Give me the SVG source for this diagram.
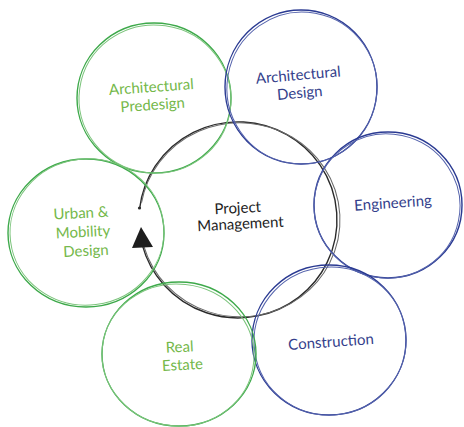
<svg xmlns="http://www.w3.org/2000/svg" width="464" height="427" viewBox="0 0 464 427">
<style>
.g1{fill:none;stroke:#3da94a;stroke-width:1.4}
.g2{fill:none;stroke:#7cc47c;stroke-width:1}
.b1{fill:none;stroke:#2a3a92;stroke-width:1.4}
.b2{fill:none;stroke:#5664ad;stroke-width:1}
.k1{fill:none;stroke:#2a2a2a;stroke-width:1.4}
.k2{fill:none;stroke:#6a6a6a;stroke-width:1}
text{font-family:Lato,"Liberation Sans",sans-serif;font-size:15px;text-anchor:middle}
.tg{fill:#74b84a}
.tb{fill:#353f8c}
.tk{fill:#1e1e1e}
</style>
<rect width="464" height="427" fill="#ffffff"/>
<g id="connectors">
<path class="k1" d="M139.7,208.1 A99 98 0 1 1 142.4,245.4"/>
<path class="k2" d="M141,206 A100 97 0 1 1 145,250" transform="rotate(2 238 220)"/>
<circle cx="139.5" cy="208" r="1.6" fill="#2a2a2a"/>
<polygon points="141,227 132,248 153,247" fill="#1e1e1e"/>
</g>
<g id="node-predesign">
<ellipse class="g1" cx="154" cy="98" rx="77" ry="75"/>
<ellipse class="g2" cx="155" cy="99" rx="76" ry="74" transform="rotate(8 155 99)"/>
<g transform="rotate(-4 152 96)"><text class="tg" x="152" y="92">Architectural</text><text class="tg" x="152" y="110">Predesign</text></g>
</g>
<g id="node-design">
<ellipse class="b1" cx="301" cy="87" rx="76" ry="77"/>
<ellipse class="b2" cx="302" cy="88" rx="75" ry="76" transform="rotate(10 302 88)"/>
<g transform="rotate(-5 299 84)"><text class="tb" x="299" y="80">Architectural</text><text class="tb" x="299" y="98">Design</text></g>
</g>
<g id="node-engineering">
<ellipse class="b1" cx="388" cy="205" rx="74" ry="73"/>
<ellipse class="b2" cx="387" cy="206" rx="73" ry="72" transform="rotate(12 387 206)"/>
<text class="tb" x="393" y="208" transform="rotate(-4 393 203)">Engineering</text>
</g>
<g id="node-construction">
<ellipse class="b1" cx="329" cy="340" rx="77" ry="75"/>
<ellipse class="b2" cx="330" cy="341" rx="76" ry="74" transform="rotate(-8 330 341)"/>
<text class="tb" x="331" y="347" transform="rotate(-4 331 342)">Construction</text>
</g>
<g id="node-realestate">
<ellipse class="g1" cx="179" cy="354" rx="77" ry="72"/>
<ellipse class="g2" cx="178" cy="355" rx="76" ry="71" transform="rotate(6 178 355)"/>
<g transform="rotate(-3 181 356)"><text class="tg" x="180" y="352">Real</text><text class="tg" x="182" y="370">Estate</text></g>
</g>
<g id="node-urban">
<ellipse class="g1" cx="86" cy="233" rx="78" ry="74"/>
<ellipse class="g2" cx="87" cy="232" rx="77" ry="73" transform="rotate(-7 87 232)"/>
<g transform="rotate(-3 84 232)"><text class="tg" x="82" y="218">Urban &amp;</text><text class="tg" x="83" y="237">Mobility</text><text class="tg" x="85" y="256">Design</text></g>
</g>
<g id="node-pm">
<g transform="rotate(-3 239 215)"><text class="tk" x="238" y="213">Project</text><text class="tk" x="240" y="229">Management</text></g>
</g>
</svg>
